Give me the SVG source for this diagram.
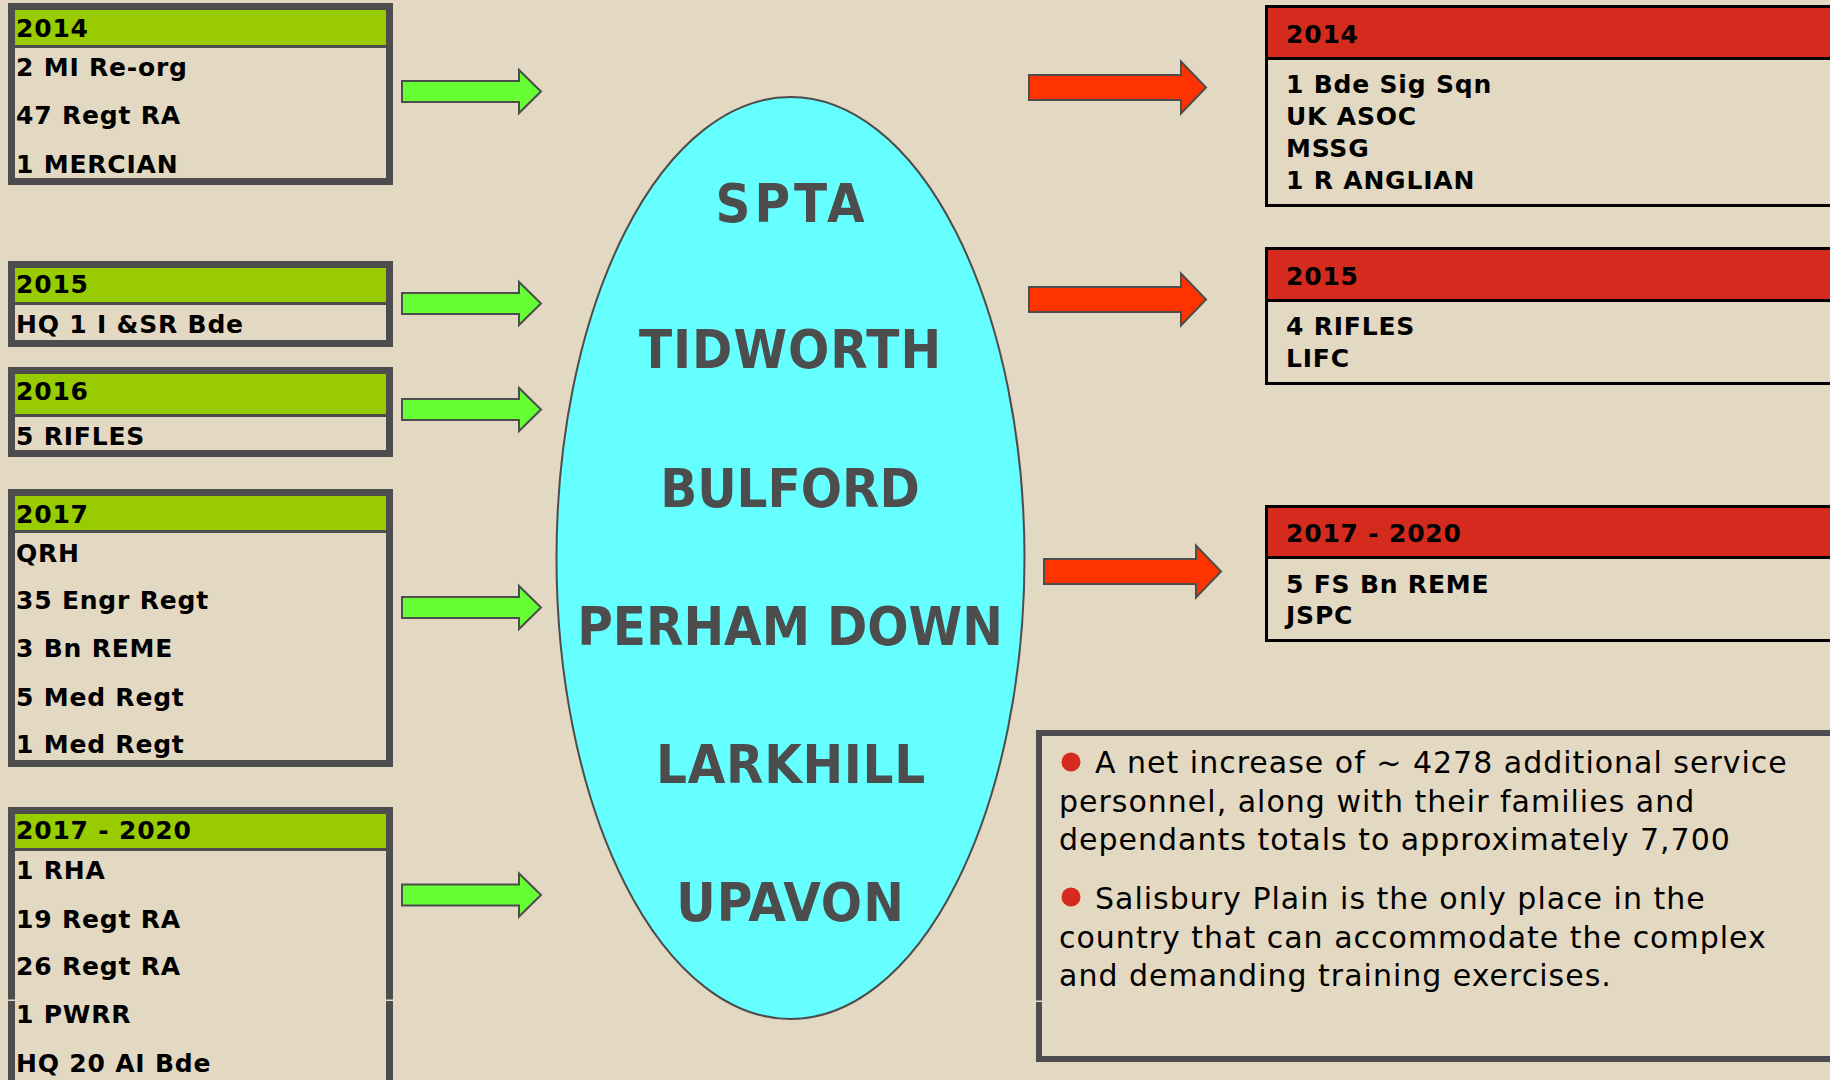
<svg xmlns="http://www.w3.org/2000/svg" width="1830" height="1080" viewBox="0 0 1830 1080">
<style>
.bg{fill:#e3d8c1}
.lbox{fill:#e3d8c1;stroke:#4d4d4d;stroke-width:7}
.ghead{fill:#99cc00}
.gdiv{stroke:#4d4d4d;stroke-width:3}
.rbox{fill:#e3d8c1;stroke:#000;stroke-width:3}
.rhead{fill:#d52b1e}
.rdiv{stroke:#000;stroke-width:3}
.t{font-family:"DejaVu Sans","Liberation Sans",sans-serif;font-weight:bold;font-size:25px;letter-spacing:0.8px;fill:#000}
.place{font-family:"DejaVu Sans Condensed","Liberation Sans",sans-serif;font-weight:bold;font-size:54px;fill:#4d4d4d;text-anchor:middle}
.note{font-family:"DejaVu Sans","Liberation Sans",sans-serif;font-size:30px;letter-spacing:1px;fill:#000}
.garrow{fill:#66ff33;stroke:#4d4d4d;stroke-width:2}
.rarrow{fill:#ff3300;stroke:#4d4d4d;stroke-width:2}
.gap{fill:#e3d8c1}
</style>
<defs>
<path id="ga" d="M402,-10.5 H519 V-21.5 L541,0 L519,21.5 V10.5 H402 Z"/>
<path id="ra" d="M0,-12.5 H152 V-26 L177,0 L152,26 V12.5 H0 Z"/>
</defs>
<rect class="bg" x="0" y="0" width="1830" height="1080"/>

<g id="box-2014">
<rect class="lbox" x="11.5" y="6.5" width="378" height="175"/>
<rect class="ghead" x="15" y="10" width="371" height="35"/>
<line class="gdiv" x1="15" y1="46.5" x2="386" y2="46.5"/>
<text class="t" x="16" y="37">2014</text>
<text class="t" x="16" y="76">2 MI Re-org</text>
<text class="t" x="16" y="124">47 Regt RA</text>
<text class="t" x="16" y="173">1 MERCIAN</text>
</g>

<g id="box-2015">
<rect class="lbox" x="11.5" y="264.5" width="378" height="79"/>
<rect class="ghead" x="15" y="268" width="371" height="34"/>
<line class="gdiv" x1="15" y1="303.5" x2="386" y2="303.5"/>
<text class="t" x="16" y="293">2015</text>
<text class="t" x="16" y="333">HQ 1 I &amp;SR Bde</text>
</g>

<g id="box-2016">
<rect class="lbox" x="11.5" y="370.5" width="378" height="83"/>
<rect class="ghead" x="15" y="374" width="371" height="40"/>
<line class="gdiv" x1="15" y1="415.5" x2="386" y2="415.5"/>
<text class="t" x="16" y="400">2016</text>
<text class="t" x="16" y="445">5 RIFLES</text>
</g>

<g id="box-2017">
<rect class="lbox" x="11.5" y="492.5" width="378" height="271"/>
<rect class="ghead" x="15" y="496" width="371" height="34"/>
<line class="gdiv" x1="15" y1="531.5" x2="386" y2="531.5"/>
<text class="t" x="16" y="523">2017</text>
<text class="t" x="16" y="562">QRH</text>
<text class="t" x="16" y="609">35 Engr Regt</text>
<text class="t" x="16" y="657">3 Bn REME</text>
<text class="t" x="16" y="706">5 Med Regt</text>
<text class="t" x="16" y="753">1 Med Regt</text>
</g>

<g id="box-2017-2020">
<rect class="lbox" x="11.5" y="810.5" width="378" height="300"/>
<rect class="ghead" x="15" y="814" width="371" height="34"/>
<line class="gdiv" x1="15" y1="849.5" x2="386" y2="849.5"/>
<rect class="gap" x="7" y="999.5" width="9" height="1.5"/>
<rect class="gap" x="385" y="999.5" width="9" height="1.5"/>
<text class="t" x="16" y="839">2017 - 2020</text>
<text class="t" x="16" y="879">1 RHA</text>
<text class="t" x="16" y="928">19 Regt RA</text>
<text class="t" x="16" y="975">26 Regt RA</text>
<text class="t" x="16" y="1023">1 PWRR</text>
<text class="t" x="16" y="1072">HQ 20 AI Bde</text>
</g>

<g id="spta">
<ellipse cx="790.5" cy="558" rx="234" ry="461" fill="#66ffff" stroke="#4d4d4d" stroke-width="2"/>
<text class="place" x="792" y="222" letter-spacing="4">SPTA</text>
<text class="place" x="790.5" y="368" letter-spacing="1">TIDWORTH</text>
<text class="place" x="790" y="507">BULFORD</text>
<text class="place" x="790" y="645">PERHAM DOWN</text>
<text class="place" x="791" y="783" letter-spacing="0.7">LARKHILL</text>
<text class="place" x="790.5" y="921" letter-spacing="1">UPAVON</text>
</g>

<g id="rbox-2014">
<rect class="rbox" x="1266.5" y="6.5" width="600" height="199"/>
<rect class="rhead" x="1268" y="8" width="600" height="49"/>
<line class="rdiv" x1="1268" y1="58.5" x2="1840" y2="58.5"/>
<text class="t" x="1286" y="43">2014</text>
<text class="t" x="1286" y="93">1 Bde Sig Sqn</text>
<text class="t" x="1286" y="125">UK ASOC</text>
<text class="t" x="1286" y="157">MSSG</text>
<text class="t" x="1286" y="189">1 R ANGLIAN</text>
</g>

<g id="rbox-2015">
<rect class="rbox" x="1266.5" y="248.5" width="600" height="135"/>
<rect class="rhead" x="1268" y="250" width="600" height="49"/>
<line class="rdiv" x1="1268" y1="300.5" x2="1840" y2="300.5"/>
<text class="t" x="1286" y="285">2015</text>
<text class="t" x="1286" y="335">4 RIFLES</text>
<text class="t" x="1286" y="367">LIFC</text>
</g>

<g id="rbox-2017-2020">
<rect class="rbox" x="1266.5" y="506.5" width="600" height="134"/>
<rect class="rhead" x="1268" y="508" width="600" height="48"/>
<line class="rdiv" x1="1268" y1="557.5" x2="1840" y2="557.5"/>
<text class="t" x="1286" y="542">2017 - 2020</text>
<text class="t" x="1286" y="593">5 FS Bn REME</text>
<text class="t" x="1286" y="624">JSPC</text>
</g>

<g id="notes">
<rect x="1039" y="733" width="900" height="326" fill="#e3d8c1" stroke="#4d4d4d" stroke-width="6"/>
<rect class="gap" x="1035" y="1000.5" width="9" height="1.5"/>
<circle cx="1071" cy="762" r="9.5" fill="#d52b1e"/>
<text class="note" x="1095" y="773">A net increase of ~ 4278 additional service</text>
<text class="note" x="1059" y="812">personnel, along with their families and</text>
<text class="note" x="1059" y="850">dependants totals to approximately 7,700</text>
<circle cx="1071" cy="897" r="9.5" fill="#d52b1e"/>
<text class="note" x="1095" y="909">Salisbury Plain is the only place in the</text>
<text class="note" x="1059" y="948">country that can accommodate the complex</text>
<text class="note" x="1059" y="986">and demanding training exercises.</text>
</g>

<g id="connectors">
<use href="#ga" class="garrow" transform="translate(0,91.5)"/>
<use href="#ga" class="garrow" transform="translate(0,303.5)"/>
<use href="#ga" class="garrow" transform="translate(0,409.5)"/>
<use href="#ga" class="garrow" transform="translate(0,607.5)"/>
<use href="#ga" class="garrow" transform="translate(0,895)"/>
<use href="#ra" class="rarrow" transform="translate(1029,87.5)"/>
<use href="#ra" class="rarrow" transform="translate(1029,299.5)"/>
<use href="#ra" class="rarrow" transform="translate(1044,571.5)"/>
</g>
</svg>
